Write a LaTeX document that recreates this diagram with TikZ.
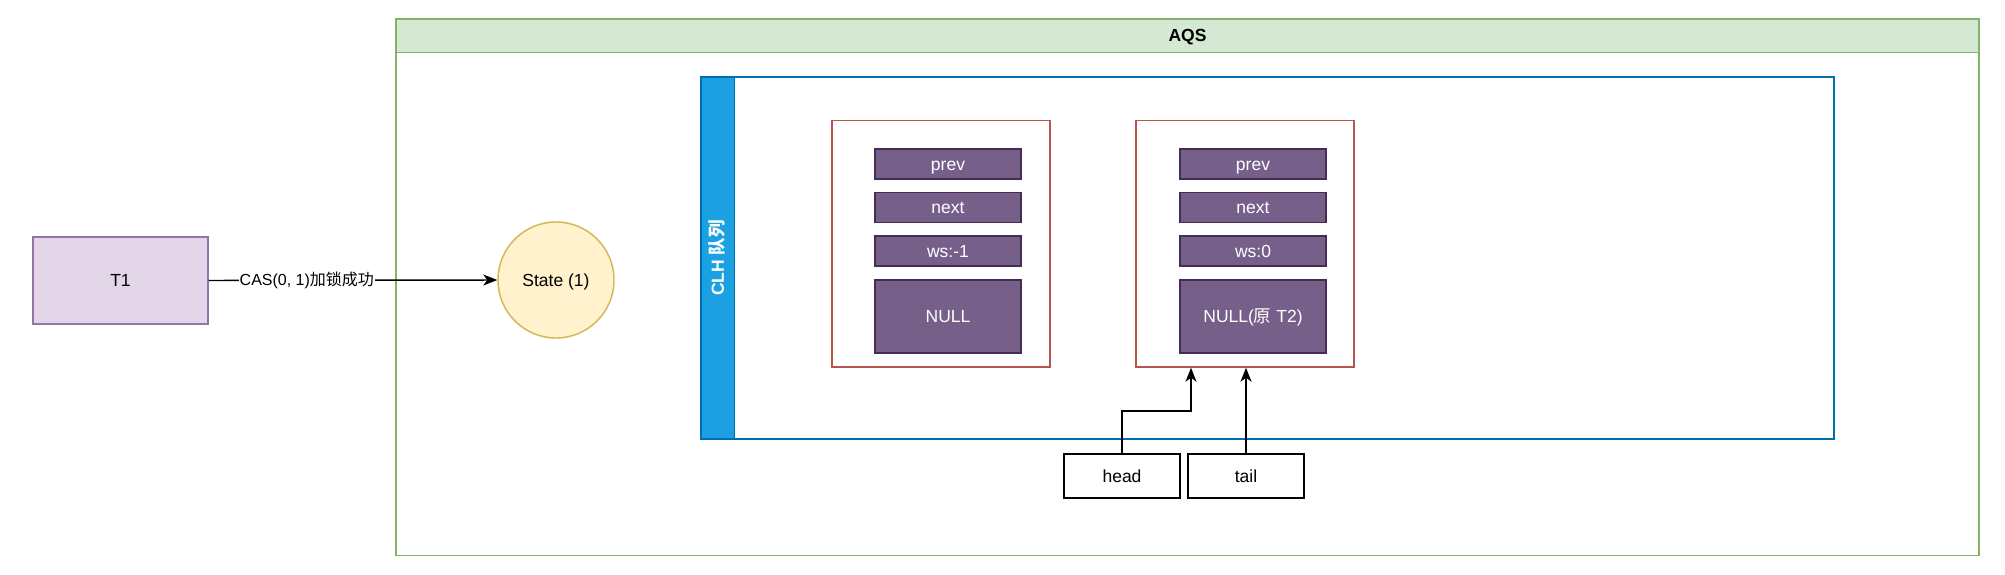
\documentclass[tikz,border=0pt]{standalone}
\usepackage{fontspec}
\setmainfont{Liberation Sans}
\newfontfamily\cjk{Noto Sans CJK SC}
\usetikzlibrary{arrows.meta}
\definecolor{grnfill}{HTML}{D5E8D4}
\definecolor{grnline}{HTML}{82B366}
\definecolor{purfill}{HTML}{E1D5E7}
\definecolor{purline}{HTML}{9673A6}
\definecolor{yelfill}{HTML}{FFF2CC}
\definecolor{yelline}{HTML}{D6B656}
\definecolor{bluefill}{HTML}{1BA1E2}
\definecolor{blueline}{HTML}{006EAF}
\definecolor{redline}{HTML}{B85450}
\definecolor{fieldfill}{HTML}{76608A}
\definecolor{fieldline}{HTML}{432D57}
\begin{document}
\begin{tikzpicture}[x=1pt,y=-1pt,line width=1.45pt,
  font=\fontsize{17.5}{21}\selectfont,
  txt/.style={text height=15.8pt,text depth=3.7pt},
  box/.style={draw,rectangle,inner sep=0pt,anchor=center,txt},
  field/.style={box,fill=fieldfill,draw=fieldline,text=white,minimum width=146pt,minimum height=30pt},
  nodebox/.style={box,draw=redline,fill=white,minimum width=218pt,minimum height=246.5pt},
  ptr/.style={box,draw=black,fill=white,minimum width=116pt,minimum height=44pt},
  arr/.style={draw=black,-{Stealth[length=14pt,width=11pt,inset=4pt]}}]
\useasboundingbox (0,0) rectangle (2005,575);
% AQS container
\node[box,draw=grnline,fill=white,minimum width=1583pt,minimum height=536.5pt] (aqs) at (1187.5,287.25) {};
\node[box,draw=grnline,fill=grnfill,minimum width=1583pt,minimum height=33.4pt,font=\fontsize{17.5}{21}\selectfont\bfseries] (aqshead) at (1187.5,35.7) {AQS};
% T1 and State
\node[box,draw=purline,fill=purfill,minimum width=175pt,minimum height=87pt] (t1) at (120.5,280.5) {T1};
\node[circle,draw=yelline,fill=yelfill,minimum size=116pt,inner sep=0pt,txt] (state) at (556,280) {State (1)};
\draw[arr] (t1.east) -- node[pos=0.34,fill=white,inner sep=1pt,text height=14.5pt,text depth=3.4pt,font=\fontsize{16}{19}\selectfont] (cas) {CAS(0, 1){\cjk 加锁成功}} (state.west);
% CLH queue
\node[box,draw=blueline,fill=white,minimum width=1133pt,minimum height=362pt] (clh) at (1267.5,258) {};
\node[box,draw=blueline,fill=bluefill,minimum width=33.5pt,minimum height=362pt] (clhbar) at (717.75,258) {};
\node[rotate=90,text=white,txt,inner sep=0pt,font=\fontsize{17.5}{21}\selectfont\bfseries] (clhlabel) at (clhbar.center) {CLH {\cjk 队列}};
% queue nodes
\node[nodebox] (n1) at (941,243.75) {};
\node[nodebox] (n2) at (1245,243.75) {};
\node[field] (p1) at (948,164) {prev};
\node[field] (x1) at (948,207.5) {next};
\node[field] (w1) at (948,251) {ws:-1};
\node[field,minimum height=73pt] (d1) at (948,316.5) {NULL};
\node[field] (p2) at (1253,164) {prev};
\node[field] (x2) at (1253,207.5) {next};
\node[field] (w2) at (1253,251) {ws:0};
\node[field,minimum height=73pt] (d2) at (1253,316.5) {NULL({\cjk 原} T2)};
% head / tail
\node[ptr] (head) at (1122,476) {head};
\node[ptr] (tail) at (1246,476) {tail};
\coordinate (hbend) at (1191,411);
\draw[arr] (head.north) |- (hbend) -- (hbend |- n2.south);
\draw[arr] (tail.north) -- (tail.north |- n2.south);
\end{tikzpicture}
\end{document}
